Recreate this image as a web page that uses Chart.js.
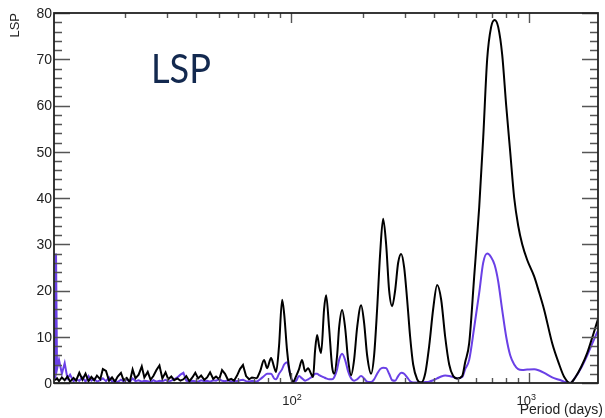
<!DOCTYPE html>
<html><head><meta charset="utf-8">
<script src="https://cdn.jsdelivr.net/npm/chart.js@4"></script>
<style>html,body{margin:0;padding:0;background:#fff}#wrap{width:605px;height:418px;position:relative}</style>
</head><body><div id="wrap"><canvas id="c" width="605" height="418"></canvas></div>
<script>
// Period (days)
const periods = [10.2, 10.3, 10.4, 10.6, 10.9, 11.2, 11.5, 11.8, 12.2, 12.5, 12.9, 13.3, 13.7, 14.1, 14.5, 14.9, 15.3, 15.8, 16.2, 16.7, 17.2, 17.7, 18.2, 18.7, 19.3, 19.8, 20.4, 21.0, 21.6, 22.2, 22.9, 23.6, 24.2, 25.0, 25.7, 26.4, 27.2, 28.0, 28.8, 29.7, 30.5, 31.4, 32.3, 33.3, 34.3, 35.3, 36.3, 37.4, 38.5, 39.6, 40.7, 41.9, 43.2, 44.4, 45.7, 47.1, 48.4, 49.9, 51.3, 52.8, 54.4, 56.0, 57.6, 59.3, 61.0, 62.8, 64.7, 66.6, 68.5,
  71.9, 74.1, 77.0, 79.3, 82.4, 84.8, 86.5, 89.0, 91.7, 93.5, 96.2, 99.0, 102.0, 105.0, 108.0, 111.2, 114.5, 117.9, 121.3, 123.7, 126.1, 128.6, 131.1, 133.7, 137.6, 140.3, 144.4, 148.7, 151.6, 156.1, 159.1, 163.8, 168.6, 173.6, 178.7, 183.9, 189.4, 196.8, 202.6, 208.6, 216.8, 223.2, 229.8, 236.6, 243.5, 250.7, 258.1, 265.7, 273.5, 281.6, 289.9, 298.4, 307.2, 316.2, 325.6, 338.4, 351.8, 365.6, 380.1, 395.1, 410.6, 426.9, 443.7, 461.3, 479.5, 498.4, 523.0, 538.4, 559.7, 587.4, 616.6, 640.9, 666.0, 692.1, 716.1, 740.8, 770.1, 800.5, 832.1, 865.0, 899.1, 934.6, 981, 1050, 1102, 1156, 1249, 1337, 1403, 1487, 1561, 1654, 1753, 1857, 1950];

// LSP, black curve
const lspBlack = [0.6, 0.8, 1.0, 0.4, 1.2, 0.6, 1.4, 0.3, 1.1, 0.5, 2.2, 0.7, 2.0, 0.4, 1.3, 0.6, 1.6, 0.8, 3.0, 2.6, 0.5, 1.2, 0.3, 1.4, 2.2, 0.6, 1.1, 0.2, 2.9, 1.0, 1.8, 3.6, 1.2, 2.4, 0.7, 1.5, 2.8, 3.8, 1.0, 2.3, 0.8, 1.4, 0.6, 1.0, 0.5, 0.8, 1.5, 0.4, 1.2, 2.2, 1.0, 1.6, 0.7, 1.2, 2.3, 0.9, 1.4, 0.8, 2.8, 2.0, 0.6, 0.9, 0.5, 1.6, 3.0, 3.9, 1.5, 0.8, 1.2,
  1.0, 2.5, 5.0, 3.2, 5.4, 3.5, 2.4, 8, 18, 15, 7, 2, 0.3, 1.5, 3, 5, 2.5, 3.2, 2.0, 1.3, 7, 10.4, 8, 6.5, 16, 19, 12, 3.5, 2, 6, 12, 15.8, 12, 5, 1.7, 5, 12, 16.8, 13, 6, 2, 6, 16, 28, 35.5, 30, 20, 16.6, 20, 26, 27.9, 25, 18, 10, 4, 0.8, 0.1, 2, 8, 16, 21.2, 18, 10, 4, 1.5, 1, 1.5, 4.5, 8.6, 23, 38, 53, 70, 77, 78.5, 77, 71, 60, 50, 40, 34, 30, 26.6, 23, 19.5, 15.8, 8.6, 4, 1.3, 0, 1.2, 3.5, 6.5, 10.5, 14];

// LSP, purple curve
const lspPurple = [1.0, 28, 3, 5, 2, 4.3, 1.0, 1.8, 0.4, 0.8, 0.5, 1.2, 0.3, 1.5, 0.5, 0.9, 0.3, 0.6, 1.0, 0.4, 1.2, 0.3, 0.5, 0.2, 0.7, 0.3, 0.8, 0.2, 1.0, 0.4, 0.6, 0.3, 0.5, 0.4, 0.2, 0.6, 0.3, 0.5, 0.4, 0.7, 0.3, 0.5, 0.8, 1.2, 1.8, 2.2, 0.5, 0.3, 0.5, 0.4, 0.3, 0.6, 0.4, 0.5, 0.3, 0.6, 0.5, 0.8, 0.5, 0.4, 0.6, 0.3, 0.5, 0.4, 0.6, 0.7, 0.4, 0.3, 0.5,
  0.3, 0.8, 1.5, 2.0, 2.0, 1.0, 0.8, 2.0, 3.0, 4.0, 4.5, 2.0, 0.3, 0.5, 1.5, 1.0, 0.5, 0.8, 1.2, 1.5, 2.0, 2.0, 1.7, 1.5, 1.2, 1.0, 0.8, 0.8, 1.2, 3, 5, 6.3, 5, 2.5, 1.0, 0.5, 0.8, 1.5, 1.0, 0.3, 0.2, 0.8, 2.0, 3.0, 3.3, 3.2, 2.0, 0.6, 0.5, 1.5, 2.2, 2.0, 1.2, 0.4, 0.1, 0.1, 0.1, 0.2, 0.3, 0.6, 1.0, 1.4, 1.6, 1.5, 1.3, 1, 1.3, 3, 5, 12, 19.5, 26, 28, 27.2, 25.5, 22, 15.8, 10, 6, 4, 3.0, 2.8, 2.9, 3.0, 2.7, 2.2, 1.2, 0.7, 0.3, 0, 1.2, 3.3, 6, 9, 11.5];

const noiseEnd = 69; // index of first point of the smooth part
const yTickValues = [0, 10, 20, 30, 40, 50, 60, 70, 80];
const yMinorValues = [2,4,6,8,12,14,16,18,22,24,26,28,32,34,36,38,42,44,46,48,52,54,56,58,62,64,66,68,72,74,76,78];
const xTickValues = [100, 1000];
const xTickLabels = [["10", "2"], ["10", "3"]];
const xMinorValues = [20, 30, 40, 50, 60, 70, 80, 90, 200, 300, 400, 500, 600, 700, 800, 900];

const toXY = (ys, from, to) => periods.slice(from, to).map((p, i) => ({x: p, y: ys[from + i]}));

const rootAxes = {
  id: 'rootAxes',
  afterDraw(chart) {
    const {ctx, chartArea: a, scales: {x, y}} = chart;
    ctx.save();
    ctx.strokeStyle = '#555';
    ctx.lineWidth = 1.4;
    ctx.beginPath();
    const yt = (v, len) => {
      const py = Math.round(y.getPixelForValue(v)) + 0.5;
      ctx.moveTo(a.left, py); ctx.lineTo(a.left + len, py);
      ctx.moveTo(a.right, py); ctx.lineTo(a.right - len, py);
    };
    yTickValues.forEach(v => yt(v, 16));
    yMinorValues.forEach(v => yt(v, 8));
    const xt = (v, len) => {
      const px = Math.round(x.getPixelForValue(v)) + 0.5;
      ctx.moveTo(px, a.bottom); ctx.lineTo(px, a.bottom - len);
      ctx.moveTo(px, a.top); ctx.lineTo(px, a.top + len);
    };
    xTickValues.forEach(v => xt(v, 10));
    xMinorValues.forEach(v => xt(v, 5));
    ctx.stroke();
    ctx.strokeStyle = '#222';
    ctx.lineWidth = 1.8;
    ctx.strokeRect(a.left, a.top, a.right - a.left, a.bottom - a.top);

    ctx.fillStyle = '#222';
    ctx.font = '14px "Liberation Sans", Arial, sans-serif';
    ctx.textAlign = 'right';
    ctx.textBaseline = 'middle';
    yTickValues.forEach(v => ctx.fillText(String(v), a.left - 2, y.getPixelForValue(v) + 1));

    xTickValues.forEach((v, i) => {
      const px = x.getPixelForValue(v);
      const [base, exp] = xTickLabels[i];
      ctx.font = '13px "Liberation Sans", Arial, sans-serif';
      const wb = ctx.measureText(base).width;
      ctx.font = '9px "Liberation Sans", Arial, sans-serif';
      const we = ctx.measureText(exp).width;
      const x0 = px - (wb + we) / 2 - (i === 1 ? 3 : -1);
      ctx.textAlign = 'left';
      ctx.textBaseline = 'alphabetic';
      ctx.font = '13px "Liberation Sans", Arial, sans-serif';
      ctx.fillText(base, x0, 405);
      ctx.font = '9px "Liberation Sans", Arial, sans-serif';
      ctx.fillText(exp, x0 + wb, 400);
    });

    ctx.font = '14px "Liberation Sans", Arial, sans-serif';
    ctx.textAlign = 'right';
    ctx.textBaseline = 'alphabetic';
    ctx.fillText('Period (days)', 603, 414);

    ctx.save();
    ctx.translate(19, a.top);
    ctx.rotate(-Math.PI / 2);
    ctx.font = '13px "Liberation Sans", Arial, sans-serif';
    ctx.textAlign = 'right';
    ctx.fillText('LSP', 0, 0);
    ctx.restore();

    ctx.save();
    ctx.font = '40px Lato, "Noto Sans", sans-serif';
    ctx.fillStyle = '#13294f';
    const w = ctx.measureText('LSP').width;
    ctx.translate(151, 83);
    ctx.scale(Math.min(1, 60 / w), 1);
    ctx.textAlign = 'left';
    ctx.textBaseline = 'alphabetic';
    ctx.fillText('LSP', 0, 0);
    ctx.restore();

    ctx.restore();
  }
};

const common = {borderWidth: 2, pointRadius: 0, fill: false};
new Chart(document.getElementById('c'), {
  type: 'line',
  data: {
    datasets: [
      {label: 'LSP', data: toXY(lspBlack, 0, noiseEnd + 1), borderColor: '#000000', tension: 0, ...common},
      {label: 'LSP', data: toXY(lspBlack, noiseEnd, periods.length), borderColor: '#000000', cubicInterpolationMode: 'monotone', ...common},
      {label: 'LSP 2', data: toXY(lspPurple, 0, noiseEnd + 1), borderColor: '#6a40e6', tension: 0, ...common},
      {label: 'LSP 2', data: toXY(lspPurple, noiseEnd, periods.length), borderColor: '#6a40e6', cubicInterpolationMode: 'monotone', ...common}
    ]
  },
  options: {
    responsive: false,
    animation: false,
    devicePixelRatio: 1,
    layout: {padding: {left: 54, top: 13, right: 7, bottom: 35}},
    plugins: {legend: {display: false}, tooltip: {enabled: false}},
    events: [],
    scales: {
      x: {type: 'logarithmic', min: 10.1, max: 1945, display: false},
      y: {type: 'linear', min: 0, max: 80, display: false}
    }
  },
  plugins: [rootAxes]
});
</script>
</body></html>
